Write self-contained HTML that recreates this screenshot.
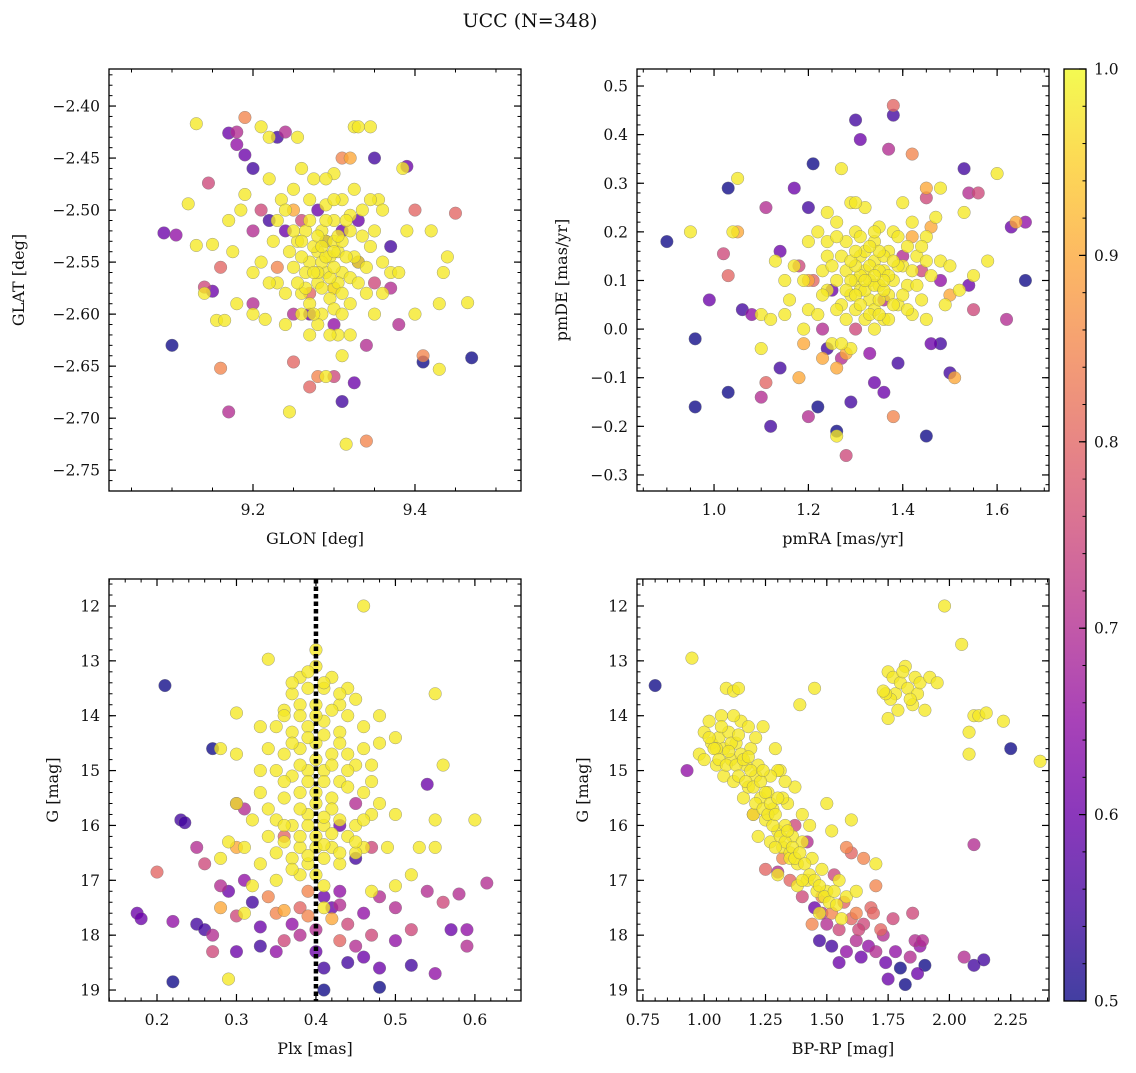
<!DOCTYPE html>
<html><head><meta charset="utf-8"><style>
html,body{margin:0;padding:0;background:#fff;}
svg text{font-family:"DejaVu Serif","Liberation Serif",serif;fill:#111;}
</style></head><body>
<svg id="fig" width="1136" height="1068" viewBox="0 0 1136 1068" xmlns="http://www.w3.org/2000/svg">
<text x="530" y="27" font-size="19" text-anchor="middle">UCC (N=348)</text>
<defs>
<linearGradient id="plasma" x1="0" y1="1" x2="0" y2="0">
<stop offset="0" stop-color="#0d0887"/><stop offset="0.1" stop-color="#41049d"/><stop offset="0.2" stop-color="#6a00a8"/><stop offset="0.3" stop-color="#8f0da4"/><stop offset="0.4" stop-color="#b12a90"/><stop offset="0.5" stop-color="#cc4778"/><stop offset="0.6" stop-color="#e16462"/><stop offset="0.7" stop-color="#f2844b"/><stop offset="0.8" stop-color="#fca636"/><stop offset="0.9" stop-color="#fcce25"/><stop offset="1" stop-color="#f0f921"/>
</linearGradient>
</defs>
</svg>
<script>
// ---- data ----
const glonGlatColored = [[9.09,-2.522,0.6],[9.105,-2.524,0.65],[9.10,-2.63,0.5],[9.145,-2.474,0.75],[9.14,-2.574,0.75],[9.15,-2.578,0.6],[9.16,-2.555,0.8],[9.16,-2.652,0.85],[9.17,-2.426,0.6],[9.17,-2.694,0.7],[9.18,-2.425,0.7],[9.18,-2.437,0.65],[9.19,-2.447,0.6],[9.19,-2.411,0.85],[9.20,-2.460,0.55],[9.2,-2.52,0.7],[9.21,-2.50,0.75],[9.23,-2.43,0.55],[9.24,-2.425,0.7],[9.24,-2.52,0.6],[9.25,-2.60,0.7],[9.25,-2.646,0.8],[9.27,-2.67,0.8],[9.28,-2.66,0.85],[9.3,-2.61,0.65],[9.31,-2.684,0.55],[9.325,-2.666,0.6],[9.33,-2.55,0.6],[9.34,-2.63,0.7],[9.34,-2.722,0.85],[9.35,-2.45,0.55],[9.37,-2.535,0.55],[9.37,-2.575,0.7],[9.39,-2.458,0.6],[9.40,-2.50,0.8],[9.41,-2.64,0.85],[9.41,-2.646,0.5],[9.45,-2.503,0.8],[9.47,-2.642,0.5],[9.38,-2.61,0.7],[9.22,-2.51,0.55],[9.26,-2.51,0.75],[9.28,-2.50,0.6],[9.33,-2.51,0.6],[9.2,-2.59,0.7],[9.3,-2.66,0.75],[9.31,-2.45,0.85],[9.27,-2.6,0.6],[9.32,-2.45,0.9],[9.3,-2.575,0.9],[9.25,-2.50,0.9],[9.29,-2.53,0.55],[9.31,-2.52,0.6],[9.27,-2.58,0.8],[9.35,-2.57,0.75],[9.23,-2.555,0.85]];
const glonGlatMembers = [[9.13,-2.417],[9.12,-2.494],[9.13,-2.534],[9.14,-2.58],[9.15,-2.533],[9.155,-2.606],[9.165,-2.606],[9.17,-2.51],[9.175,-2.54],[9.18,-2.59],[9.185,-2.50],[9.19,-2.485],[9.2,-2.56],[9.2,-2.6],[9.21,-2.42],[9.21,-2.55],[9.215,-2.605],[9.22,-2.47],[9.22,-2.43],[9.225,-2.53],[9.23,-2.57],[9.235,-2.49],[9.24,-2.61],[9.245,-2.694],[9.25,-2.555],[9.25,-2.48],[9.255,-2.53],[9.26,-2.46],[9.26,-2.58],[9.265,-2.52],[9.27,-2.55],[9.27,-2.59],[9.275,-2.47],[9.28,-2.54],[9.28,-2.57],[9.285,-2.52],[9.285,-2.60],[9.29,-2.56],[9.29,-2.53],[9.295,-2.545],[9.30,-2.51],[9.30,-2.575],[9.305,-2.54],[9.31,-2.56],[9.31,-2.49],[9.315,-2.725],[9.32,-2.52],[9.32,-2.59],[9.325,-2.42],[9.33,-2.42],[9.33,-2.55],[9.335,-2.50],[9.34,-2.58],[9.345,-2.42],[9.35,-2.52],[9.355,-2.49],[9.36,-2.50],[9.36,-2.55],[9.37,-2.56],[9.38,-2.56],[9.385,-2.46],[9.39,-2.52],[9.40,-2.60],[9.42,-2.52],[9.43,-2.59],[9.435,-2.56],[9.44,-2.545],[9.465,-2.589],[9.43,-2.653],[9.305,-2.62],[9.31,-2.64],[9.29,-2.66],[9.27,-2.62],[9.255,-2.43],[9.3,-2.465],[9.26,-2.6],[9.35,-2.6],[9.275,-2.535],[9.295,-2.585],[9.3,-2.53],[9.285,-2.55],[9.31,-2.53],[9.28,-2.56],[9.265,-2.56],[9.305,-2.57],[9.29,-2.51],[9.325,-2.545],[9.245,-2.54],[9.345,-2.535]];
const glonGlatMembers2 = [[9.28,-2.525],[9.29,-2.545],[9.295,-2.565],[9.3,-2.555],[9.305,-2.525],[9.275,-2.56],[9.285,-2.575],[9.3,-2.595],[9.31,-2.58],[9.315,-2.545],[9.32,-2.565],[9.27,-2.51],[9.26,-2.545],[9.265,-2.575],[9.29,-2.495],[9.3,-2.49],[9.32,-2.505],[9.335,-2.525],[9.34,-2.555],[9.28,-2.61],[9.295,-2.62],[9.255,-2.57],[9.25,-2.52],[9.24,-2.5],[9.23,-2.51],[9.325,-2.48],[9.29,-2.47],[9.31,-2.6],[9.32,-2.62],[9.24,-2.58],[9.22,-2.57],[9.345,-2.49],[9.36,-2.58],[9.27,-2.49],[9.3,-2.54],[9.285,-2.535],[9.315,-2.51],[9.275,-2.6],[9.33,-2.57],[9.26,-2.53]];

const pmColored = [[0.9,0.18,0.5],[0.96,-0.02,0.5],[0.96,-0.16,0.5],[0.99,0.06,0.6],[1.03,0.29,0.5],[1.03,-0.13,0.5],[1.02,0.155,0.75],[1.03,0.11,0.8],[1.06,0.04,0.55],[1.08,0.03,0.65],[1.1,-0.14,0.7],[1.11,-0.11,0.8],[1.12,-0.2,0.55],[1.11,0.25,0.7],[1.14,0.16,0.6],[1.14,-0.08,0.55],[1.17,0.29,0.6],[1.18,0.13,0.75],[1.2,0.25,0.55],[1.2,-0.18,0.7],[1.21,0.34,0.5],[1.22,-0.16,0.5],[1.24,-0.04,0.55],[1.26,-0.21,0.5],[1.28,-0.26,0.75],[1.29,-0.15,0.55],[1.3,0.43,0.55],[1.31,0.39,0.6],[1.34,-0.11,0.6],[1.36,-0.13,0.6],[1.37,0.37,0.7],[1.38,0.46,0.8],[1.38,0.44,0.55],[1.39,-0.07,0.55],[1.42,0.36,0.85],[1.45,0.27,0.75],[1.45,-0.22,0.5],[1.48,-0.03,0.55],[1.5,-0.09,0.55],[1.53,0.33,0.55],[1.54,0.28,0.7],[1.56,0.28,0.75],[1.55,0.04,0.75],[1.62,0.02,0.7],[1.63,0.21,0.6],[1.66,0.22,0.65],[1.66,0.1,0.5],[1.54,0.09,0.6],[1.46,-0.03,0.6],[1.36,0.06,0.7],[1.3,0.0,0.75],[1.25,0.08,0.6],[1.4,0.15,0.7],[1.44,0.12,0.75],[1.48,0.1,0.65],[1.33,-0.05,0.65],[1.27,-0.06,0.7],[1.21,0.1,0.8],[1.23,0.0,0.7],[1.45,0.29,0.9],[1.5,0.07,0.9],[1.51,-0.1,0.9],[1.64,0.22,0.9],[1.05,0.2,0.9],[1.2,0.1,0.9],[1.18,-0.1,0.9],[1.26,-0.08,0.9],[1.38,-0.18,0.85],[1.42,0.19,0.9],[1.46,0.21,0.9],[1.19,-0.03,0.9],[1.23,-0.06,0.9],[1.28,-0.05,0.9]];
const pmMembers = [[0.95,0.2],[1.05,0.31],[1.04,0.2],[1.1,0.03],[1.1,-0.04],[1.12,0.02],[1.13,0.14],[1.15,0.1],[1.16,0.06],[1.17,0.13],[1.19,0.1],[1.2,0.04],[1.2,0.18],[1.22,0.2],[1.22,0.03],[1.23,0.12],[1.24,0.24],[1.24,0.15],[1.25,-0.03],[1.26,-0.22],[1.26,0.1],[1.27,0.33],[1.27,0.05],[1.28,0.18],[1.28,0.12],[1.29,0.26],[1.29,0.07],[1.3,0.2],[1.3,0.1],[1.3,0.04],[1.31,0.15],[1.31,0.08],[1.32,0.12],[1.32,0.02],[1.32,0.25],[1.33,0.06],[1.33,0.1],[1.34,0.14],[1.34,0.18],[1.34,0.04],[1.35,0.09],[1.35,0.21],[1.36,0.12],[1.36,0.02],[1.37,0.16],[1.37,0.07],[1.38,0.1],[1.38,0.2],[1.39,0.05],[1.4,0.13],[1.4,0.26],[1.41,0.09],[1.42,0.22],[1.42,0.03],[1.43,0.15],[1.44,0.06],[1.45,0.19],[1.46,0.11],[1.47,0.23],[1.48,0.14],[1.49,0.05],[1.5,0.13],[1.52,0.08],[1.53,0.24],[1.55,0.11],[1.58,0.14],[1.6,0.32],[1.48,0.29],[1.45,0.02],[1.15,0.03],[1.26,0.22],[1.3,0.26],[1.34,0.0],[1.29,-0.04],[1.27,-0.03],[1.24,0.08],[1.19,0.0]];
const pmMembers2 = [[1.31,0.11],[1.32,0.08],[1.33,0.13],[1.34,0.09],[1.35,0.06],[1.35,0.12],[1.36,0.15],[1.36,0.08],[1.37,0.11],[1.38,0.05],[1.33,0.03],[1.32,0.16],[1.3,0.13],[1.29,0.1],[1.28,0.08],[1.3,0.07],[1.39,0.13],[1.4,0.07],[1.41,0.17],[1.39,0.19],[1.34,0.2],[1.31,0.19],[1.27,0.15],[1.25,0.13],[1.26,0.04],[1.35,0.16],[1.37,0.02],[1.42,0.12],[1.43,0.09],[1.33,0.17],[1.29,0.14],[1.36,0.1],[1.38,0.14],[1.31,0.05],[1.28,0.02],[1.24,0.18],[1.45,0.14],[1.41,0.04],[1.34,0.11],[1.32,0.1],[1.3,0.16],[1.26,0.19],[1.44,0.17],[1.35,0.03],[1.23,0.07]];

const plxColored = [[0.21,13.45,0.5],[0.27,14.6,0.5],[0.23,15.9,0.55],[0.235,15.95,0.55],[0.3,15.6,0.65],[0.31,15.7,0.7],[0.25,16.4,0.7],[0.26,16.7,0.75],[0.2,16.85,0.8],[0.175,17.6,0.6],[0.18,17.7,0.6],[0.22,17.75,0.65],[0.25,17.8,0.55],[0.26,17.9,0.55],[0.27,18.0,0.7],[0.27,18.3,0.75],[0.28,17.1,0.7],[0.29,17.2,0.6],[0.3,17.65,0.75],[0.31,17.0,0.65],[0.32,17.4,0.55],[0.33,17.85,0.6],[0.33,18.2,0.55],[0.22,18.85,0.5],[0.3,18.3,0.6],[0.35,17.6,0.85],[0.36,18.1,0.75],[0.38,18.0,0.7],[0.38,17.5,0.8],[0.37,17.8,0.65],[0.4,17.9,0.7],[0.4,18.3,0.6],[0.41,18.6,0.55],[0.41,19.0,0.5],[0.42,17.5,0.6],[0.43,17.2,0.65],[0.44,17.8,0.75],[0.45,18.2,0.7],[0.44,18.5,0.55],[0.46,17.6,0.65],[0.46,18.4,0.6],[0.47,18.0,0.75],[0.48,17.3,0.7],[0.48,18.6,0.6],[0.48,18.95,0.5],[0.5,17.5,0.7],[0.5,18.1,0.65],[0.52,18.55,0.55],[0.52,17.9,0.75],[0.54,17.2,0.7],[0.54,15.25,0.6],[0.55,18.7,0.65],[0.56,17.4,0.75],[0.57,17.9,0.6],[0.58,17.25,0.7],[0.59,18.2,0.7],[0.59,17.9,0.65],[0.615,17.05,0.7],[0.43,16.0,0.6],[0.45,16.6,0.55],[0.47,16.4,0.75],[0.36,16.2,0.8],[0.28,17.5,0.9],[0.45,15.6,0.7],[0.34,17.3,0.85],[0.39,17.2,0.85],[0.42,17.7,0.9],[0.3,16.4,0.9],[0.36,17.55,0.9],[0.39,17.65,0.85],[0.43,17.45,0.7],[0.41,17.3,0.6],[0.35,18.3,0.65],[0.43,18.1,0.8]];
const plxMembers = [[0.46,12.0],[0.34,12.97],[0.4,12.8],[0.38,13.3],[0.42,13.3],[0.4,13.1],[0.37,13.6],[0.39,13.5],[0.41,13.5],[0.44,13.5],[0.36,13.9],[0.38,13.8],[0.4,13.8],[0.43,13.8],[0.45,13.7],[0.3,13.95],[0.33,14.2],[0.35,14.2],[0.37,14.3],[0.39,14.2],[0.41,14.1],[0.43,14.3],[0.46,14.2],[0.48,14.0],[0.55,13.6],[0.28,14.6],[0.3,14.7],[0.34,14.6],[0.36,14.7],[0.38,14.6],[0.4,14.5],[0.42,14.7],[0.44,14.7],[0.46,14.6],[0.48,14.5],[0.5,14.4],[0.35,15.0],[0.37,15.1],[0.39,15.0],[0.41,15.0],[0.43,15.2],[0.45,14.9],[0.47,15.2],[0.56,14.9],[0.33,15.4],[0.36,15.5],[0.38,15.4],[0.4,15.4],[0.42,15.5],[0.44,15.3],[0.46,15.4],[0.48,15.6],[0.3,15.6],[0.32,15.9],[0.35,15.9],[0.37,16.0],[0.39,15.8],[0.41,16.0],[0.43,15.9],[0.45,16.0],[0.47,15.8],[0.5,15.8],[0.55,15.9],[0.6,15.9],[0.29,16.3],[0.31,16.4],[0.34,16.2],[0.36,16.3],[0.38,16.4],[0.4,16.2],[0.42,16.4],[0.44,16.2],[0.46,16.4],[0.49,16.4],[0.53,16.4],[0.55,16.4],[0.28,16.6],[0.33,16.7],[0.37,16.6],[0.39,16.7],[0.41,16.6],[0.43,16.7],[0.45,16.5],[0.35,17.0],[0.41,17.1],[0.38,16.9],[0.47,17.2],[0.5,17.1],[0.52,16.9],[0.31,17.6],[0.41,17.5],[0.29,18.8],[0.32,17.1]];
const plxMembers2 = [[0.39,13.2],[0.41,13.4],[0.38,14.0],[0.4,14.0],[0.42,13.9],[0.39,14.4],[0.41,14.35],[0.4,14.8],[0.38,14.9],[0.42,14.9],[0.39,15.2],[0.41,15.2],[0.4,15.6],[0.38,15.7],[0.42,15.7],[0.39,16.0],[0.41,15.85],[0.4,16.4],[0.38,16.2],[0.42,16.15],[0.39,16.55],[0.41,16.35],[0.36,15.2],[0.44,15.0],[0.37,14.5],[0.43,14.5],[0.35,16.5],[0.45,16.3],[0.34,15.7],[0.46,15.9],[0.37,13.4],[0.43,13.6],[0.36,14.0],[0.44,14.0],[0.37,16.8],[0.43,16.5],[0.4,16.9],[0.33,15.0],[0.47,14.9],[0.36,16.0]];

const cmdColored = [[0.8,13.45,0.5],[0.93,15.0,0.65],[2.25,14.6,0.5],[2.1,16.35,0.7],[2.06,18.4,0.7],[2.1,18.55,0.55],[2.14,18.45,0.55],[1.3,16.85,0.7],[1.35,17.0,0.8],[1.4,17.3,0.75],[1.45,17.5,0.6],[1.47,18.1,0.55],[1.5,17.8,0.7],[1.52,18.2,0.55],[1.55,18.5,0.6],[1.55,17.9,0.75],[1.58,18.3,0.65],[1.6,17.7,0.8],[1.62,18.1,0.7],[1.64,18.4,0.6],[1.65,17.8,0.75],[1.67,18.2,0.65],[1.7,18.3,0.7],[1.72,17.9,0.8],[1.74,18.5,0.6],[1.75,18.8,0.6],[1.77,17.7,0.75],[1.78,18.3,0.65],[1.8,18.6,0.5],[1.82,18.9,0.5],[1.84,18.4,0.7],[1.85,17.6,0.75],[1.86,18.1,0.7],[1.87,18.7,0.6],[1.88,18.2,0.65],[1.9,18.55,0.5],[1.89,18.1,0.7],[1.6,16.5,0.8],[1.65,16.6,0.85],[1.68,17.5,0.8],[1.53,16.9,0.75],[1.42,16.3,0.7],[1.37,16.0,0.75],[1.25,16.8,0.8],[1.2,15.8,0.8],[1.32,16.6,0.85],[1.48,17.3,0.85],[1.58,16.4,0.85],[1.7,17.1,0.85],[1.44,17.8,0.85],[1.62,17.6,0.85],[1.57,17.4,0.8],[1.63,17.9,0.75],[1.69,17.6,0.8],[1.52,17.6,0.85],[1.73,18.0,0.7],[1.48,17.6,0.7]];
const cmdMembers = [[0.95,12.95],[0.98,14.7],[1.0,14.3],[1.0,14.8],[1.02,14.1],[1.03,14.5],[1.05,14.9],[1.06,14.4],[1.07,14.0],[1.08,14.6],[1.08,15.1],[1.09,13.5],[1.1,14.3],[1.11,14.8],[1.12,13.55],[1.12,15.2],[1.13,14.5],[1.14,13.5],[1.15,14.1],[1.16,15.5],[1.17,14.9],[1.18,15.3],[1.19,14.6],[1.2,15.8],[1.21,15.1],[1.22,16.2],[1.23,15.5],[1.24,14.2],[1.25,15.9],[1.26,15.4],[1.27,16.3],[1.28,15.7],[1.29,14.6],[1.3,16.1],[1.31,15.0],[1.32,16.4],[1.33,16.0],[1.34,15.6],[1.35,16.5],[1.36,16.2],[1.37,15.3],[1.38,16.7],[1.39,13.8],[1.4,16.3],[1.42,17.0],[1.44,16.6],[1.45,13.5],[1.46,17.2],[1.48,16.8],[1.5,17.2],[1.52,16.1],[1.55,17.0],[1.58,17.3],[1.7,16.7],[1.3,15.0],[1.22,14.9],[1.15,14.7],[1.27,15.1],[1.32,15.5],[1.12,14.0],[1.05,14.6],[1.18,14.2],[1.33,15.2],[1.4,15.8],[1.43,16.0],[1.35,16.6],[1.38,17.1],[1.47,17.6],[1.6,15.9],[1.5,15.6],[1.3,16.9],[1.56,17.7],[1.62,17.2],[1.75,13.2],[1.77,13.3],[1.78,13.6],[1.8,13.4],[1.82,13.1],[1.83,13.5],[1.85,13.8],[1.86,13.3],[1.87,13.6],[1.76,13.7],[1.74,13.6],[1.88,13.4],[1.9,13.9],[1.92,13.3],[1.95,13.4],[1.79,13.9],[1.81,13.2],[1.75,14.05],[1.84,13.7],[1.73,13.55],[1.98,12.0],[2.05,12.7],[2.1,14.0],[2.12,14.0],[2.15,13.95],[2.08,14.3],[2.08,14.7],[2.22,14.1],[2.37,14.83]];
const cmdMembers2 = [[1.04,14.6],[1.06,14.8],[1.09,14.9],[1.11,14.5],[1.13,14.9],[1.14,15.1],[1.16,14.8],[1.17,15.2],[1.19,15.0],[1.2,15.3],[1.21,15.6],[1.23,15.2],[1.24,15.7],[1.25,15.4],[1.26,15.8],[1.27,15.6],[1.28,16.0],[1.29,15.8],[1.3,15.5],[1.31,16.2],[1.33,16.3],[1.34,16.1],[1.36,16.4],[1.37,16.6],[1.39,16.5],[1.41,16.7],[1.43,16.9],[1.45,17.0],[1.47,17.1],[1.49,17.3],[1.51,17.4],[1.53,17.2],[1.02,14.4],[1.07,14.2],[1.1,14.65],[1.14,14.35],[1.18,14.75],[1.24,15.0],[1.21,14.4],[1.29,16.4],[1.4,17.0],[1.54,17.45]];

const plxCut = [0.4];
const glonTicks = [9.2, 9.4];
const glatTicks = [-2.40,-2.45,-2.50,-2.55,-2.60,-2.65,-2.70,-2.75];
const pmraTicks = [1.0,1.2,1.4,1.6];
const pmdeTicks = [0.5,0.4,0.3,0.2,0.1,0.0,-0.1,-0.2,-0.3];
const plxTicks = [0.2,0.3,0.4,0.5,0.6];
const gTicks = [12,13,14,15,16,17,18,19];
const bprpTicks = [0.75,1.00,1.25,1.50,1.75,2.00,2.25];
const cbarTicks = [0.5,0.6,0.7,0.8,0.9,1.0];

// ---- drawing ----
const NS='http://www.w3.org/2000/svg';
const fig=document.getElementById('fig');
function mk(tag,attrs,parent){const e=document.createElementNS(NS,tag);for(const k in attrs)e.setAttribute(k,attrs[k]);(parent||fig).appendChild(e);return e;}
const stops=[[13,8,135],[65,4,157],[106,0,168],[143,13,164],[177,42,144],[204,71,120],[225,100,98],[242,132,75],[252,166,54],[252,206,37],[240,249,33]];
function plasma(v){let t=Math.max(0,Math.min(1,(v-0.5)/0.5))*10;const i=Math.min(9,Math.floor(t));const f=t-i;const a=stops[i],b=stops[i+1];return `rgb(${Math.round(a[0]+(b[0]-a[0])*f)},${Math.round(a[1]+(b[1]-a[1])*f)},${Math.round(a[2]+(b[2]-a[2])*f)})`;}
function fmt(v,d){return v.toFixed(d).replace('-','\u2212');}

function panel(o){
  const g=mk('g',{});
  
  
  const sx=v=>o.x0+(v-o.xmin)/(o.xmax-o.xmin)*(o.x1-o.x0);
  const sy=v=>o.inv? o.y0+(v-o.ymin)/(o.ymax-o.ymin)*(o.y1-o.y0) : o.y1-(v-o.ymin)/(o.ymax-o.ymin)*(o.y1-o.y0);
  const pts=o.colored.map(p=>[p[0],p[1],p[2]]).concat(o.members.map(p=>[p[0],p[1],0.98]));
  pts.sort((a,b)=>a[2]-b[2]);
  const pg=mk('g',{},g);
  
  
  pts.forEach(p=>{
    const c=mk('circle',{cx:sx(p[0]),cy:sy(p[1]),r:6.3,fill:plasma(p[2]),'fill-opacity':0.78,stroke:'#777','stroke-width':0.5,'stroke-opacity':0.7},pg);
    
    
  });
  if(o.vline){o.vline.forEach(v=>{const l=mk('line',{x1:sx(v),x2:sx(v),y1:o.y0,y2:o.y1,stroke:'#000','stroke-width':4.5,'stroke-dasharray':'4.5,3'},g);
    
    });}
  const f=mk('rect',{x:o.x0,y:o.y0,width:o.x1-o.x0,height:o.y1-o.y0,fill:'none',stroke:'#000','stroke-width':1.3},g);
  
  
  for(let v=Math.ceil(o.xmin/o.xminor-1e-6)*o.xminor; v<=o.xmax+1e-9; v+=o.xminor){const X=sx(v);
    mk('line',{x1:X,x2:X,y1:o.y1,y2:o.y1-3.5,stroke:'#000','stroke-width':1},g);mk('line',{x1:X,x2:X,y1:o.y0,y2:o.y0+3.5,stroke:'#000','stroke-width':1},g);}
  const ylo=Math.min(o.ymin,o.ymax), yhi=Math.max(o.ymin,o.ymax);
  for(let v=Math.ceil(ylo/o.yminor-1e-6)*o.yminor; v<=yhi+1e-9; v+=o.yminor){const Y=sy(v);
    mk('line',{x1:o.x0,x2:o.x0+3.5,y1:Y,y2:Y,stroke:'#000','stroke-width':1},g);mk('line',{x1:o.x1,x2:o.x1-3.5,y1:Y,y2:Y,stroke:'#000','stroke-width':1},g);}
  o.xt.forEach(v=>{const X=sx(v);
    mk('line',{x1:X,x2:X,y1:o.y1,y2:o.y1-7,stroke:'#000','stroke-width':1.2},g);mk('line',{x1:X,x2:X,y1:o.y0,y2:o.y0+7,stroke:'#000','stroke-width':1.2},g);
    const t=mk('text',{x:X,y:o.y1+24,'font-size':15.5,'text-anchor':'middle'},g);t.textContent=fmt(v,o.xd);
    
    });
  o.yt.forEach(v=>{const Y=sy(v);
    mk('line',{x1:o.x0,x2:o.x0+7,y1:Y,y2:Y,stroke:'#000','stroke-width':1.2},g);mk('line',{x1:o.x1,x2:o.x1-7,y1:Y,y2:Y,stroke:'#000','stroke-width':1.2},g);
    const t=mk('text',{x:o.x0-9,y:Y+5.5,'font-size':15.5,'text-anchor':'end'},g);t.textContent=fmt(v,o.yd);
    
    });
  const xl=mk('text',{x:(o.x0+o.x1)/2,y:o.y1+53,'font-size':16,'text-anchor':'middle'},g);xl.textContent=o.xlabel;
  
  
  const yx=o.ylx, yy=(o.y0+o.y1)/2;
  const yl=mk('text',{x:yx,y:yy,'font-size':16,'text-anchor':'middle',transform:`rotate(-90 ${yx} ${yy})`},g);yl.textContent=o.ylabel;
  
  
}

panel({name:'glon-glat-panel',x0:109,x1:521,y0:69,y1:491,xmin:9.0222,xmax:9.5309,ymin:-2.770,ymax:-2.3644,xminor:0.05,yminor:0.01,xt:glonTicks,yt:glatTicks,xd:1,yd:2,xlabel:'GLON [deg]',ylabel:'GLAT [deg]',ylx:24,colored:glonGlatColored,members:glonGlatMembers.concat(glonGlatMembers2)});
panel({name:'pm-panel',x0:637,x1:1049,y0:69,y1:491,xmin:0.8367,xmax:1.710,ymin:-0.333,ymax:0.535,xminor:0.05,yminor:0.02,xt:pmraTicks,yt:pmdeTicks,xd:1,yd:1,xlabel:'pmRA [mas/yr]',ylabel:'pmDE [mas/yr]',ylx:567,colored:pmColored,members:pmMembers.concat(pmMembers2)});
panel({name:'plx-g-panel',x0:109,x1:521,y0:579,y1:1001,xmin:0.1396,xmax:0.658,ymin:11.508,ymax:19.2,inv:true,xminor:0.02,yminor:0.2,xt:plxTicks,yt:gTicks,xd:1,yd:0,xlabel:'Plx [mas]',ylabel:'G [mag]',ylx:58,colored:plxColored,members:plxMembers.concat(plxMembers2),vline:plxCut});
panel({name:'cmd-panel',x0:637,x1:1049,y0:579,y1:1001,xmin:0.726,xmax:2.406,ymin:11.508,ymax:19.2,inv:true,xminor:0.05,yminor:0.2,xt:bprpTicks,yt:gTicks,xd:2,yd:0,xlabel:'BP-RP [mag]',ylabel:'G [mag]',ylx:588,colored:cmdColored,members:cmdMembers.concat(cmdMembers2)});

(function(){
  const g=mk('g',{});
  
  
  const x0=1064,x1=1086,y0=69,y1=1001;
  mk('rect',{x:x0,y:y0,width:x1-x0,height:y1-y0,fill:'url(#plasma)','fill-opacity':0.78},g);
  mk('rect',{x:x0,y:y0,width:x1-x0,height:y1-y0,fill:'none',stroke:'#000','stroke-width':1.3},g);
  const sy=v=>y1-(v-0.5)/0.5*(y1-y0);
  for(let v=0.5;v<=1.0001;v+=0.02){const Y=sy(v);mk('line',{x1:x1,x2:x1-3.5,y1:Y,y2:Y,stroke:'#000','stroke-width':1},g);}
  cbarTicks.forEach(v=>{const Y=sy(v);mk('line',{x1:x1,x2:x1-7,y1:Y,y2:Y,stroke:'#000','stroke-width':1.2},g);
    const t=mk('text',{x:x1+8,y:Y+5.5,'font-size':15.5},g);t.textContent=v.toFixed(1);
    
    });
})();
</script>
</body></html>
